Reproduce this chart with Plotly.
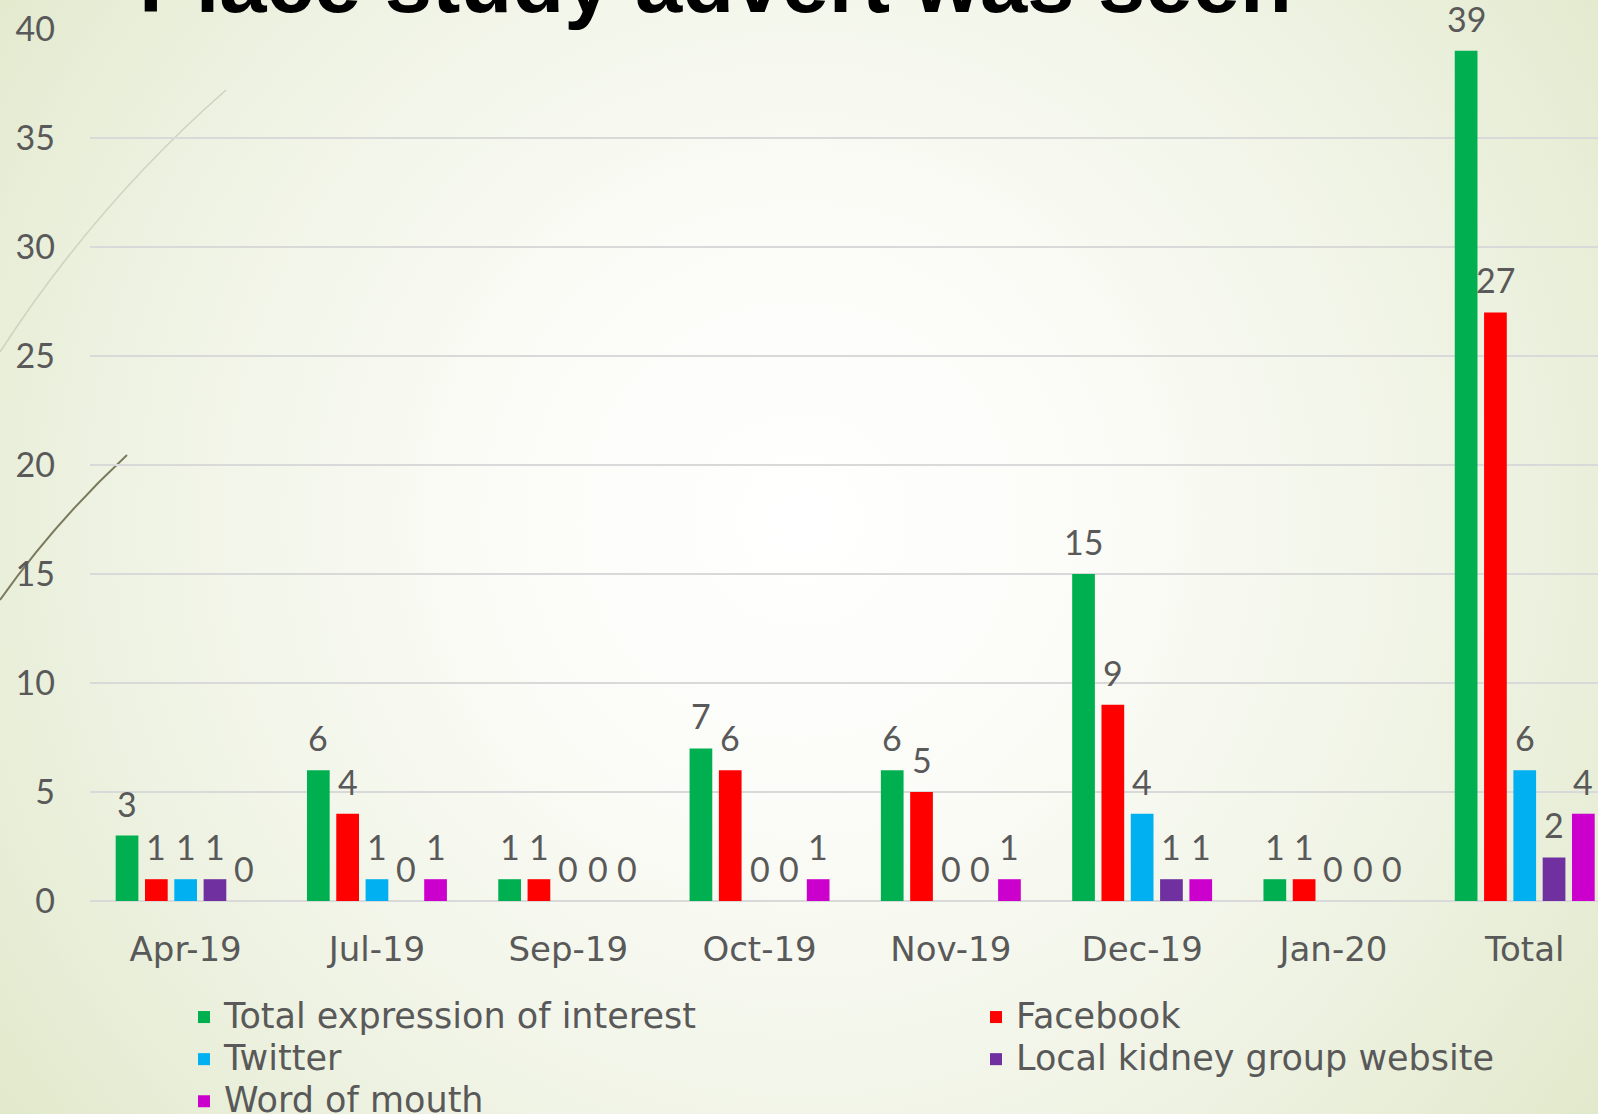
import base64
import plotly.graph_objects as go

# ---------------- data ----------------
categories = ["Apr-19", "Jul-19", "Sep-19", "Oct-19", "Nov-19", "Dec-19", "Jan-20", "Total"]
total_interest = [3, 6, 1, 7, 6, 15, 1, 39]
facebook = [1, 4, 1, 6, 5, 9, 1, 27]
twitter = [1, 1, 0, 0, 0, 4, 0, 6]
local_kidney = [1, 0, 0, 0, 0, 1, 0, 2]
word_of_mouth = [0, 1, 0, 1, 1, 1, 0, 4]
series_names = ["Total expression of interest", "Facebook", "Twitter",
                "Local kidney group website", "Word of mouth"]
y_ticks = [0, 5, 10, 15, 20, 25, 30, 35, 40]
title_text = "Place study advert was seen"

# ---------------- style ----------------
colors = ["#00B050", "#FF0000", "#00B0F0", "#7030A0", "#CC00CC"]
legend_ids = ["legend", "legend2", "legend", "legend2", "legend"]
TXT = "#595959"
NUM_FONT = "Lato, 'Open Sans', sans-serif"
WORD_FONT = "'DejaVu Sans', Lato, sans-serif"

W, H = 1598, 1114
ML, MR, MT, MB = 90, 0, 29, 213
PW, PH = W - ML - MR, H - MT - MB
X_RANGE = [-0.5, 7.383]
BARGAP, BARGROUPGAP = 0.234, 0.225
LEG_TOP = 993  # px from top

svg = f'''<svg xmlns="http://www.w3.org/2000/svg" width="{W}" height="{H}" viewBox="0 0 {W} {H}">
<defs><radialGradient id="g" cx="800" cy="520" r="1000" gradientUnits="userSpaceOnUse">
<stop offset="0" stop-color="#FFFFFF"/><stop offset="0.3" stop-color="#FBFCF7"/>
<stop offset="0.7" stop-color="#EEF2E2"/><stop offset="1" stop-color="#E1E9CB"/></radialGradient></defs>
<rect width="{W}" height="{H}" fill="url(#g)"/>
<path d="M0,352 Q95,205 226,90" stroke="#CED4BF" stroke-width="1.6" fill="none"/>
<path d="M0,600 Q55,522 127,455" stroke="#7B7A5C" stroke-width="2" fill="none"/>
</svg>'''
bg_uri = "data:image/svg+xml;base64," + base64.b64encode(svg.encode()).decode()

all_series = [total_interest, facebook, twitter, local_kidney, word_of_mouth]
n_series = len(all_series)
cat_px = PW / (X_RANGE[1] - X_RANGE[0])
slot_px = cat_px * (1 - BARGAP) / n_series

fig = go.Figure()
annotations = []
for i, (name, vals, col, lg) in enumerate(zip(series_names, all_series, colors, legend_ids)):
    fig.add_trace(go.Bar(
        x=categories, y=vals,
        name="<span style='font-size:35px'>" + name + "</span>",
        legend=lg, legendgroup=name,
        marker=dict(color=col, line=dict(width=0)),
    ))
    for c, v in zip(categories, vals):
        annotations.append(dict(
            x=c, y=v, xref="x", yref="y", text=str(v), showarrow=False,
            xanchor="center", yanchor="bottom",
            xshift=(i - (n_series - 1) / 2) * slot_px, yshift=10,
            font=dict(family=NUM_FONT, size=34, color=TXT)))

annotations.append(dict(text="<b>" + title_text + "</b>", xref="paper", yref="paper",
                        x=(715 - ML) / PW, y=1, xanchor="center", yanchor="bottom",
                        yshift=-3, showarrow=False,
                        font=dict(family="'Liberation Sans', Arial, sans-serif", size=85,
                                  color="#000000")))

legend_common = dict(orientation="v", xanchor="left", yref="container",
                     y=1 - LEG_TOP / H, yanchor="top", bgcolor="rgba(0,0,0,0)",
                     font=dict(family=WORD_FONT, size=27, color=TXT),
                     traceorder="grouped", tracegroupgap=4)

fig.update_layout(
    width=W, height=H, autosize=False,
    margin=dict(l=ML, r=MR, t=MT, b=MB, pad=0),
    paper_bgcolor="#E8EDD8", plot_bgcolor="rgba(0,0,0,0)",
    barmode="group", bargap=BARGAP, bargroupgap=BARGROUPGAP,
    font=dict(family=NUM_FONT, color=TXT),
    xaxis=dict(range=X_RANGE, showgrid=False, zeroline=False, showline=False,
               ticks="", tickfont=dict(family=WORD_FONT, size=34, color=TXT),
               ticklabelstandoff=25),
    yaxis=dict(range=[0, 40], tickvals=y_ticks, showgrid=True, gridcolor="#D9D9D9",
               gridwidth=2, zeroline=True, zerolinecolor="#D9D9D9", zerolinewidth=2,
               showline=False, ticks="", tickfont=dict(family=NUM_FONT, size=34, color=TXT),
               ticklabelstandoff=34),
    legend=dict(x=(184 - ML) / PW, **legend_common),
    legend2=dict(x=(976 - ML) / PW, **legend_common),
    images=[dict(source=bg_uri, xref="paper", yref="paper",
                 x=-ML / PW, y=1 + MT / PH, sizex=W / PW, sizey=H / PH,
                 xanchor="left", yanchor="top", sizing="stretch", layer="below")],
    annotations=annotations,
)

fig.write_html("out.html", config={"displayModeBar": False}, post_script=(
    "document.documentElement.style.margin='0';document.body.style.margin='0';"
    "document.documentElement.style.overflow='hidden';document.body.style.overflow='hidden';"))
